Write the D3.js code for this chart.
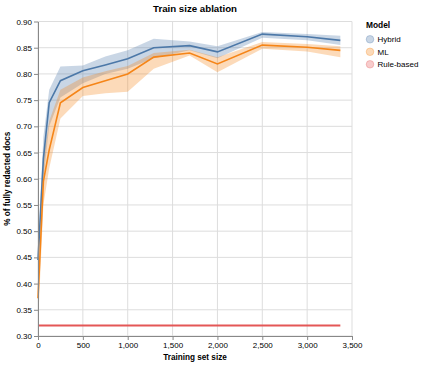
<!DOCTYPE html>
<html>
<head>
<meta charset="utf-8">
<script src="https://cdn.jsdelivr.net/npm/d3@7"></script>
<style>
  body { margin: 0; background: #fff; }
  text { font-family: "Liberation Sans", Arial, Helvetica, sans-serif; }
</style>
</head>
<body>
<svg id="chart" width="423" height="365"></svg>
<script>
// training set sizes
const sizes = [0, 60, 125, 250, 500, 750, 1000, 1290, 1690, 2000, 2500, 3000, 3370];

// Hybrid model: mean and CI band
const hybridMean = [0.445, 0.638, 0.745, 0.787, 0.806, 0.817, 0.829, 0.850, 0.854, 0.842, 0.876, 0.871, 0.864];
const hybridLo   = [0.420, 0.600, 0.700, 0.755, 0.782, 0.800, 0.810, 0.830, 0.845, 0.830, 0.869, 0.864, 0.855];
const hybridHi   = [0.470, 0.680, 0.770, 0.814, 0.816, 0.833, 0.845, 0.867, 0.862, 0.853, 0.880, 0.876, 0.873];

// ML model
const mlMean = [0.372, 0.595, 0.655, 0.745, 0.774, 0.787, 0.800, 0.832, 0.840, 0.819, 0.855, 0.851, 0.845];
const mlLo   = [0.320, 0.550, 0.620, 0.715, 0.758, 0.763, 0.766, 0.810, 0.835, 0.803, 0.848, 0.843, 0.832];
const mlHi   = [0.400, 0.640, 0.710, 0.770, 0.793, 0.805, 0.815, 0.840, 0.846, 0.832, 0.861, 0.857, 0.853];

// Rule-based baseline (independent of training size)
const ruleSizes = [0, 3370];
const ruleMean = [0.32, 0.32];

const models = ["Hybrid", "ML", "Rule-based"];
const colors = ["#4c78a8", "#f58518", "#e45756"];

const xTicks = [0, 500, 1000, 1500, 2000, 2500, 3000, 3500];
const yTicks = [0.30, 0.35, 0.40, 0.45, 0.50, 0.55, 0.60, 0.65, 0.70, 0.75, 0.80, 0.85, 0.90];

const svg = d3.select("#chart");
const margin = { left: 38, top: 21.5, right: 352, bottom: 336 };

const x = d3.scaleLinear().domain([0, 3500]).range([margin.left, margin.right]);
const y = d3.scaleLinear().domain([0.3, 0.9]).range([margin.bottom, margin.top]);
const color = d3.scaleOrdinal().domain(models).range(colors);

// grid
const grid = svg.append("g");
grid.selectAll(".gx").data(xTicks).join("line")
  .attr("x1", d => x(d)).attr("x2", d => x(d))
  .attr("y1", margin.top).attr("y2", margin.bottom)
  .attr("stroke", "#ddd").attr("stroke-width", 1);
grid.selectAll(".gy").data(yTicks).join("line")
  .attr("x1", margin.left).attr("x2", margin.right)
  .attr("y1", d => y(d)).attr("y2", d => y(d))
  .attr("stroke", "#ddd").attr("stroke-width", 1);

// series
const series = [
  { name: "Hybrid", mean: hybridMean, lo: hybridLo, hi: hybridHi },
  { name: "ML", mean: mlMean, lo: mlLo, hi: mlHi }
];

const area = d3.area()
  .x(d => x(d.s)).y0(d => y(d.lo)).y1(d => y(d.hi));
const line = d3.line().x(d => x(d.s)).y(d => y(d.v));

series.forEach(s => {
  const pts = sizes.map((v, i) => ({ s: v, lo: s.lo[i], hi: s.hi[i] }));
  svg.append("path").datum(pts)
    .attr("d", area)
    .attr("fill", color(s.name))
    .attr("fill-opacity", 0.3);
});

series.forEach(s => {
  const pts = sizes.map((v, i) => ({ s: v, v: s.mean[i] }));
  svg.append("path").datum(pts)
    .attr("d", line)
    .attr("fill", "none")
    .attr("stroke", color(s.name))
    .attr("stroke-width", 1.6);
});

svg.append("path")
  .datum(ruleSizes.map((v, i) => ({ s: v, v: ruleMean[i] })))
  .attr("d", line)
  .attr("fill", "none")
  .attr("stroke", color("Rule-based"))
  .attr("stroke-width", 1.8);

// axes
const xAxis = svg.append("g")
  .attr("transform", `translate(0,${margin.bottom})`)
  .call(d3.axisBottom(x).tickValues(xTicks).tickFormat(d3.format(","))
    .tickSize(4).tickPadding(2).tickSizeOuter(0));
const yAxis = svg.append("g")
  .attr("transform", `translate(${margin.left},0)`)
  .call(d3.axisLeft(y).tickValues(yTicks).tickFormat(d3.format(".2f"))
    .tickSize(4).tickPadding(2).tickSizeOuter(0));

[xAxis, yAxis].forEach(a => {
  a.select(".domain").attr("stroke", "#888");
  a.selectAll(".tick line").attr("stroke", "#888");
  a.selectAll(".tick text").attr("fill", "#000").style("font-size", "8px")
    .style("font-family", '"Liberation Sans", Arial, Helvetica, sans-serif');
});

// titles
svg.append("text")
  .attr("x", (margin.left + margin.right) / 2).attr("y", 12)
  .attr("text-anchor", "middle")
  .style("font-size", "9.7px").style("font-weight", "bold")
  .text("Train size ablation");

svg.append("text")
  .attr("x", (margin.left + margin.right) / 2).attr("y", 360)
  .attr("text-anchor", "middle")
  .style("font-size", "8.2px").style("font-weight", "bold")
  .text("Training set size");

svg.append("text")
  .attr("transform", `translate(10,${(margin.top + margin.bottom) / 2}) rotate(-90)`)
  .attr("text-anchor", "middle")
  .style("font-size", "8.2px").style("font-weight", "bold")
  .text("% of fully redacted docs");

// legend
const legend = svg.append("g").attr("transform", "translate(366,0)");
legend.append("text")
  .attr("x", 0).attr("y", 28)
  .style("font-size", "8.4px").style("font-weight", "bold")
  .text("Model");

const items = legend.selectAll(".item").data(models).join("g")
  .attr("transform", (d, i) => `translate(0,${39.3 + i * 12.5})`);
items.append("circle")
  .attr("cx", 4).attr("cy", 0).attr("r", 3.8)
  .attr("fill", d => color(d)).attr("fill-opacity", 0.3)
  .attr("stroke", d => color(d)).attr("stroke-opacity", 0.3);
items.append("text")
  .attr("x", 11.5).attr("y", 2.8)
  .style("font-size", "8px")
  .text(d => d);
</script>
</body>
</html>
